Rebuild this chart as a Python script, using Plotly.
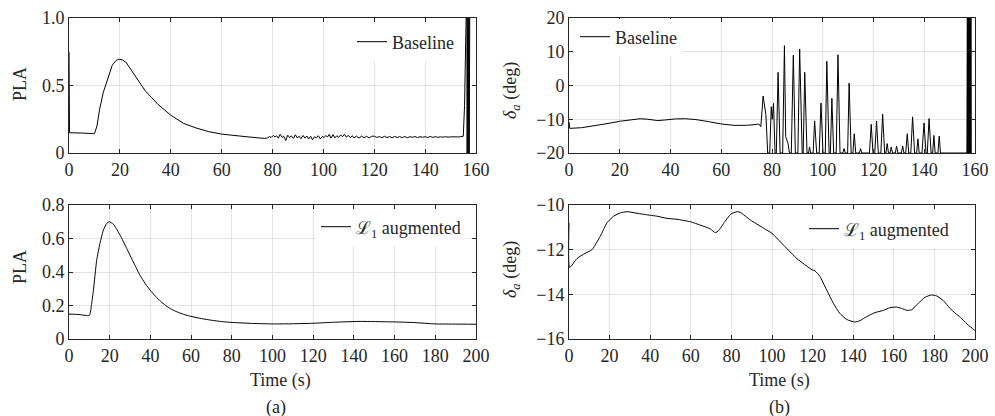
import plotly.graph_objects as go

# ---------------- data ----------------
# (a) top: PLA, baseline
t_pla_base = [0, 0.2, 5, 10, 11, 12, 13.5, 15, 17, 18.5, 19.5, 21, 22.5, 25, 27.5, 30, 32.5, 35, 40, 45, 50, 55, 60, 65, 70, 74, 77,
              78, 78.8, 79.5, 80.3, 81, 81.6, 82.3, 83, 83.8, 84.4, 85.2, 86, 86.7, 87.4, 88.2, 89, 89.7, 90.5, 91.2, 92,
              92.8, 93.5, 94.2, 95, 95.7, 96.5, 97.3, 98, 98.8, 99.6, 100.3, 101, 101.6, 102.3, 103, 103.8, 104.5, 105.3,
              106, 106.8, 107.5, 108.3, 109, 109.8, 110.6, 111.4,
              112, 113, 114, 115, 116, 117, 118, 119,
              120, 121, 122, 123, 124, 125, 126, 127, 128, 129, 130, 131, 132, 133, 134, 135, 136, 137, 138, 139,
              140, 141, 142, 143, 144, 145, 146, 147, 148, 149, 150, 151, 152, 153, 154, 155,
              155.5, 156.0, 156.3, 156.4, 156.5, 156.6, 156.7, 156.8, 156.9, 157.0, 157.1, 157.2, 157.3, 157.4, 157.5, 157.6]
pla_base = [0.75, 0.15, 0.148, 0.143, 0.2, 0.32, 0.45, 0.54, 0.65, 0.685, 0.695, 0.69, 0.67, 0.6, 0.53, 0.46, 0.41, 0.36, 0.28, 0.22, 0.185, 0.158, 0.14, 0.128, 0.12, 0.113, 0.108,
            0.112, 0.122, 0.115, 0.130, 0.118, 0.128, 0.110, 0.138, 0.115, 0.125, 0.092, 0.132, 0.114, 0.127, 0.108, 0.135, 0.112, 0.124, 0.106, 0.130,
            0.110, 0.126, 0.104, 0.124, 0.098, 0.120, 0.112, 0.128, 0.104, 0.122, 0.115, 0.130, 0.118, 0.138, 0.110, 0.136, 0.112, 0.128,
            0.116, 0.134, 0.120, 0.138, 0.118, 0.130, 0.114, 0.128,
            0.112, 0.125, 0.110, 0.126, 0.113, 0.123, 0.112, 0.124,
            0.125, 0.115, 0.122, 0.113, 0.124, 0.114, 0.122, 0.113, 0.123, 0.115, 0.121, 0.114, 0.122, 0.113, 0.121, 0.116, 0.122, 0.114, 0.121, 0.116,
            0.121, 0.115, 0.122, 0.116, 0.121, 0.116, 0.120, 0.117, 0.121, 0.117, 0.120, 0.118, 0.120, 0.119, 0.121, 0.124,
            0.35, 0.8, 1.02, 1.3, -0.2, 1.3, -0.2, 1.3, -0.2, 1.3, -0.2, 1.3, -0.2, 1.3, -0.2, 1.3]

# (a) bottom: PLA, L1 augmented
t_pla_l1 = [0, 5, 10, 11, 12, 13.6, 15.2, 16.9, 18.5, 19.8, 21.8, 25.1, 28.4, 31.6, 34.9, 37.5, 40, 42.5, 45, 47.5, 50, 52.5, 55, 57.5, 60,
            65, 70, 75, 80, 90, 100, 110, 120, 130, 143, 150, 160, 170, 180, 190, 200]
pla_l1 = [0.149, 0.146, 0.141, 0.2, 0.29, 0.47, 0.57, 0.65, 0.69, 0.70, 0.685, 0.62, 0.54, 0.46, 0.38, 0.33, 0.29, 0.255, 0.225, 0.2, 0.18, 0.165, 0.153, 0.143, 0.135,
          0.122, 0.112, 0.104, 0.099, 0.093, 0.09, 0.091, 0.094, 0.1, 0.105, 0.104, 0.102, 0.098, 0.09, 0.089, 0.088]

# (b) top: aileron deflection, baseline
t_da_base = [0, 0.3, 5, 10, 15, 20, 25, 28, 31, 35, 38, 42, 46, 50, 55, 60, 65, 70, 74.2,
             74.8, 75.6, 76.5, 77.6, 78.3, 79.1, 79.7, 80.1, 80.6, 81.2, 81.7, 82.4, 83.2, 84.2, 84.9, 85.4, 86.3, 86.9,
             87.6, 88.4, 89.2, 90.2, 90.9, 91.9, 92.3, 92.9, 93.8, 94.4, 94.8, 95.2, 96.2, 96.8, 97.6, 98.6, 99.3,
             100.1, 101.0, 101.6, 102.5, 103.0, 103.6, 104.3, 105.3, 106.0, 106.8, 107.9, 108.4, 108.9, 109.8, 110.4,
             111.2, 111.9, 112.4, 113.0, 114.4, 114.9, 115.4, 118.4, 119.1, 119.8, 120.5, 121.2, 121.9, 122.9, 123.6,
             124.4, 124.9, 125.4, 125.9, 126.5, 127.0, 127.5, 128.6, 129.1, 129.6, 131.0, 131.5, 132.0, 132.7, 133.3,
             133.9, 134.7, 135.4, 136.2, 137.0, 137.5, 138.0, 139.1, 139.9, 140.7, 141.2, 141.9, 142.7, 143.3, 143.8,
             144.3, 145.4, 145.9, 146.4, 156.8,
             157.0, 157.1, 157.2, 157.3, 157.4, 157.5, 157.6, 157.7, 157.8, 157.9, 158.0, 158.1, 158.2, 158.3, 158.4, 158.5]
da_base = [-10.8, -12.7, -12.5, -12.0, -11.3, -10.6, -10.0, -9.85, -10.0, -10.4, -10.2, -9.9, -9.85, -10.1, -10.7, -11.4, -11.8, -11.8, -11.5,
           -11.4, -12.2, -3.1, -8.7, -20, -20, -6.3, -10.0, -5.3, -20, -20, 3.9, -20, -20, 11.8, -15.2, -17.1, -20,
           -20, 9.0, -20, -20, 10.8, -20, -20, 3.9, -20, -20, -18.2, -20, -20, -10.5, -20, -20, -5.2,
           -20, -20, 7.2, -20, -20, -3.8, -20, -20, 9.1, -20, -20, -18.7, -20, -20, 0.7,
           -20, -20, -14.3, -20, -20, -18.7, -20, -20, -11.5, -20, -20, -10.5, -20, -20, -8.5,
           -20, -20, -17.2, -20, -20, -18.2, -20, -20, -17.9, -20, -20, -17.9, -20, -20, -14.3,
           -20, -20, -9.3, -20, -20, -15.8, -20, -20, -11.1, -20, -20, -9.8, -20, -20, -14.8,
           -20, -20, -15.0, -20, -20,
           30, -30, 30, -30, 30, -30, 30, -30, 30, -30, 30, -30, 30, -30, 30, -30]

# (b) bottom: aileron deflection, L1 augmented
t_da_l1 = [0, 0.3, 3.9, 7.2, 11.3, 15.4, 18.7, 22, 25.3, 28.6, 33.5, 40, 43.3, 48.3, 53.2, 59.8, 64.7, 69.6, 72.1, 73.7, 76.2,
           79.8, 82.8, 84.4, 89.3, 95.9, 100, 105.7, 112.3, 119.7, 121.2, 123.6, 126.9, 130.2, 133.4, 136.7, 140.8, 143.3,
           146.6, 150.7, 154.8, 158, 161.3, 163.8, 166.6, 168.8, 172.1, 175.4, 178.6, 181.1, 184.4, 187.7, 190.3, 192.8,
           196.1, 199.3, 200]
da_l1 = [-10.8, -12.8, -12.4, -12.2, -12.0, -11.4, -10.8, -10.5, -10.35, -10.3, -10.37, -10.46, -10.5, -10.6, -10.64, -10.75, -10.9, -11.07, -11.24, -11.15, -10.82,
         -10.4, -10.3, -10.33, -10.67, -11.04, -11.27, -11.8, -12.4, -12.9, -12.95, -13.2, -13.8, -14.4, -14.85, -15.12, -15.24, -15.18,
         -15.0, -14.82, -14.72, -14.6, -14.57, -14.63, -14.72, -14.69, -14.4, -14.13, -14.03, -14.07, -14.28, -14.63, -14.85, -15.03,
         -15.33, -15.57, -15.62]

# tick labels
x_ticks_top = [0, 20, 40, 60, 80, 100, 120, 140, 160]
x_ticks_bottom = [0, 20, 40, 60, 80, 100, 120, 140, 160, 180, 200]
y_ticks_pla_base = [0, 0.5, 1.0]
y_text_pla_base = ["0", "0.5", "1.0"]
y_ticks_pla_l1 = [0, 0.2, 0.4, 0.6, 0.8]
y_text_pla_l1 = ["0", "0.2", "0.4", "0.6", "0.8"]
y_ticks_da_base = [-20, -10, 0, 10, 20]
y_text_da_base = ["\u221220", "\u221210", "0", "10", "20"]
y_ticks_da_l1 = [-16, -14, -12, -10]
y_text_da_l1 = ["\u221216", "\u221214", "\u221212", "\u221210"]

# ---------------- figure ----------------
W, H = 995, 416
FONT = "Liberation Serif, Times New Roman, serif"
AX = "#262626"
GRID = "#e3e3e3"


def px_x(p):
    return p / W


def px_y(p):
    return 1 - p / H


fig = go.Figure()

line = dict(color="black", width=1)
fig.add_trace(go.Scatter(x=t_pla_base, y=pla_base, mode="lines", line=line, name="Baseline",
                         xaxis="x", yaxis="y", legend="legend", showlegend=True))
fig.add_trace(go.Scatter(x=t_da_base, y=da_base, mode="lines", line=line, name="Baseline",
                         xaxis="x2", yaxis="y2", legend="legend2", showlegend=True))
fig.add_trace(go.Scatter(x=t_pla_l1, y=pla_l1, mode="lines", line=dict(color="black", width=1, shape="spline", smoothing=0.5),
                         name="\u2112<sub>1</sub> augmented", xaxis="x3", yaxis="y3", legend="legend3", showlegend=True))
fig.add_trace(go.Scatter(x=t_da_l1, y=da_l1, mode="lines", line=dict(color="black", width=1, shape="spline", smoothing=0.5),
                         name="\u2112<sub>1</sub> augmented", xaxis="x4", yaxis="y4", legend="legend4", showlegend=True))

common = dict(showline=True, linecolor=AX, linewidth=1, mirror="ticks", ticks="inside", ticklen=4,
              tickcolor=AX, tickwidth=1, showgrid=True, gridcolor=GRID, gridwidth=1, zeroline=False,
              automargin=False, tickfont=dict(family=FONT, size=18, color=AX))

left_dom = [px_x(69), px_x(476)]
right_dom = [px_x(569), px_x(975)]
top_dom = [px_y(153), px_y(18)]
bot_dom = [px_y(339), px_y(205)]

fig.update_layout(
    width=W, height=H, margin=dict(l=0, r=0, t=0, b=0, autoexpand=False),
    paper_bgcolor="white", plot_bgcolor="white", showlegend=True,
    font=dict(family=FONT, size=18, color=AX),
    xaxis=dict(domain=left_dom, anchor="y", range=[0, 160], tickvals=x_ticks_top, **common),
    yaxis=dict(domain=top_dom, anchor="x", range=[0, 1], tickvals=y_ticks_pla_base, ticktext=y_text_pla_base, **common),
    xaxis2=dict(domain=right_dom, anchor="y2", range=[0, 160], tickvals=x_ticks_top, **common),
    yaxis2=dict(domain=top_dom, anchor="x2", range=[-20, 20], tickvals=y_ticks_da_base, ticktext=y_text_da_base, **common),
    xaxis3=dict(domain=left_dom, anchor="y3", range=[0, 200], tickvals=x_ticks_bottom, **common),
    yaxis3=dict(domain=bot_dom, anchor="x3", range=[0, 0.8], tickvals=y_ticks_pla_l1, ticktext=y_text_pla_l1, **common),
    xaxis4=dict(domain=right_dom, anchor="y4", range=[0, 200], tickvals=x_ticks_bottom, **common),
    yaxis4=dict(domain=bot_dom, anchor="x4", range=[-16, -10], tickvals=y_ticks_da_l1, ticktext=y_text_da_l1, **common),
)

leg = dict(bgcolor="white", borderwidth=0, font=dict(family=FONT, size=18, color=AX),
           xanchor="left", yanchor="middle", itemwidth=30, tracegroupgap=0, visible=True)
fig.update_layout(
    legend=dict(x=px_x(352), y=px_y(42), **leg),
    legend2=dict(x=px_x(575), y=px_y(37), **leg),
    legend3=dict(x=px_x(316), y=px_y(227), **leg),
    legend4=dict(x=px_x(804), y=px_y(229), **leg),
)

ann = []
def label(text, x, y, angle=0):
    ann.append(dict(text=text, x=px_x(x), y=px_y(y), xref="paper", yref="paper", showarrow=False,
                    textangle=angle, xanchor="center", yanchor="middle",
                    font=dict(family=FONT, size=18, color=AX)))

label("PLA", 20, 84, -90)
label("PLA", 20, 267, -90)
label("<i>\u03b4<sub>a</sub></i> (deg)", 511, 91, -90)
label("<i>\u03b4<sub>a</sub></i> (deg)", 511, 270, -90)
label("Time (s)", 280, 380)
label("Time (s)", 779, 380)
label("(a)", 276, 407)
label("(b)", 779, 407)
fig.update_layout(annotations=ann)

fig.write_html("out.html", config={"displayModeBar": False},
               post_script="document.body.style.margin='0';document.body.style.overflow='hidden';")
